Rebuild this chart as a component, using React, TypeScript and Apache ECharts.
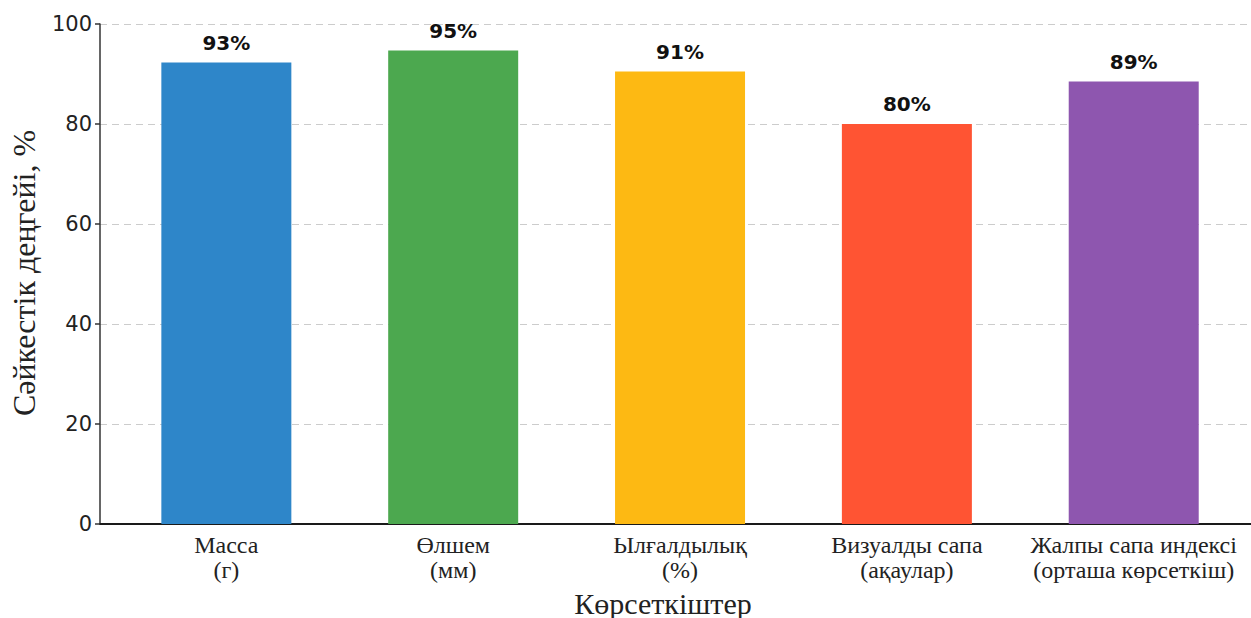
import React, { useEffect, useRef } from "react";
import * as echarts from "echarts";

const categories = [
  "Масса\n(г)",
  "Өлшем\n(мм)",
  "Ылғалдылық\n(%)",
  "Визуалды сапа\n(ақаулар)",
  "Жалпы сапа индексі\n(орташа көрсеткіш)",
];
const values = [92.3, 94.7, 90.5, 80.0, 88.5];
const valueLabels = ["93%", "95%", "91%", "80%", "89%"];
const colors = ["#2E86C9", "#4CA84F", "#FDB913", "#FF5433", "#8E56AF"];
const yTitle = "Сәйкестік деңгейі, %";
const xTitle = "Көрсеткіштер";

export default function App() {
  const ref = useRef<HTMLDivElement>(null);
  useEffect(() => {
    if (!ref.current) return;
    const chart = echarts.init(ref.current, null, { renderer: "svg" });
    const serif = "'Liberation Serif', 'DejaVu Serif', serif";
    const sans = "'DejaVu Sans', sans-serif";
    chart.setOption({
      animation: false,
      backgroundColor: "#ffffff",
      grid: { left: 100, right: 0, top: 24, bottom: 94, containLabel: false },
      xAxis: {
        type: "value",
        min: -0.557,
        max: 4.517,
        axisLine: { show: true, onZero: false, lineStyle: { color: "#1a1a1a", width: 2 } },
        axisTick: { show: false },
        splitLine: { show: false },
        axisLabel: {
          customValues: categories.map((_, i) => i),
          formatter: (v: number) => categories[Math.round(v)] ?? "",
          fontFamily: serif,
          fontSize: 24,
          lineHeight: 25,
          color: "#222",
          margin: 8,
        },
      },
      yAxis: {
        type: "value",
        min: 0,
        max: 100,
        interval: 20,
        axisLine: { show: true, onZero: false, lineStyle: { color: "#333", width: 1.5 } },
        axisTick: { show: true, length: 5, lineStyle: { color: "#333", width: 1.5 } },
        axisLabel: { fontFamily: sans, fontSize: 21, color: "#222", margin: 8 },
        splitLine: {
          show: true,
          lineStyle: { color: "#cccccc", type: [7, 5], width: 1 },
        },
      },
      graphic: [
        {
          type: "text",
          x: 24,
          y: 273,
          rotation: Math.PI / 2,
          style: {
            text: yTitle,
            fontFamily: serif,
            fontSize: 32,
            fill: "#222",
            align: "center",
            verticalAlign: "middle",
          },
        },
        {
          type: "text",
          x: 663,
          y: 603,
          style: {
            text: xTitle,
            fontFamily: serif,
            fontSize: 30,
            fill: "#222",
            align: "center",
            verticalAlign: "middle",
          },
        },
      ],
      series: [
        {
          type: "bar",
          barWidth: 130,
          data: values.map((v, i) => ({
            value: [i, v],
            itemStyle: { color: colors[i] },
          })),
          label: {
            show: true,
            position: "top",
            distance: 10,
            formatter: (p: any) => valueLabels[p.dataIndex],
            fontFamily: sans,
            fontWeight: "bold",
            fontSize: 20,
            color: "#111",
          },
        },
      ],
    });
    return () => chart.dispose();
  }, []);
  return (
    <div
      ref={ref}
      style={{ position: "fixed", left: 0, top: 0, width: 1251, height: 618, background: "#fff" }}
    />
  );
}
